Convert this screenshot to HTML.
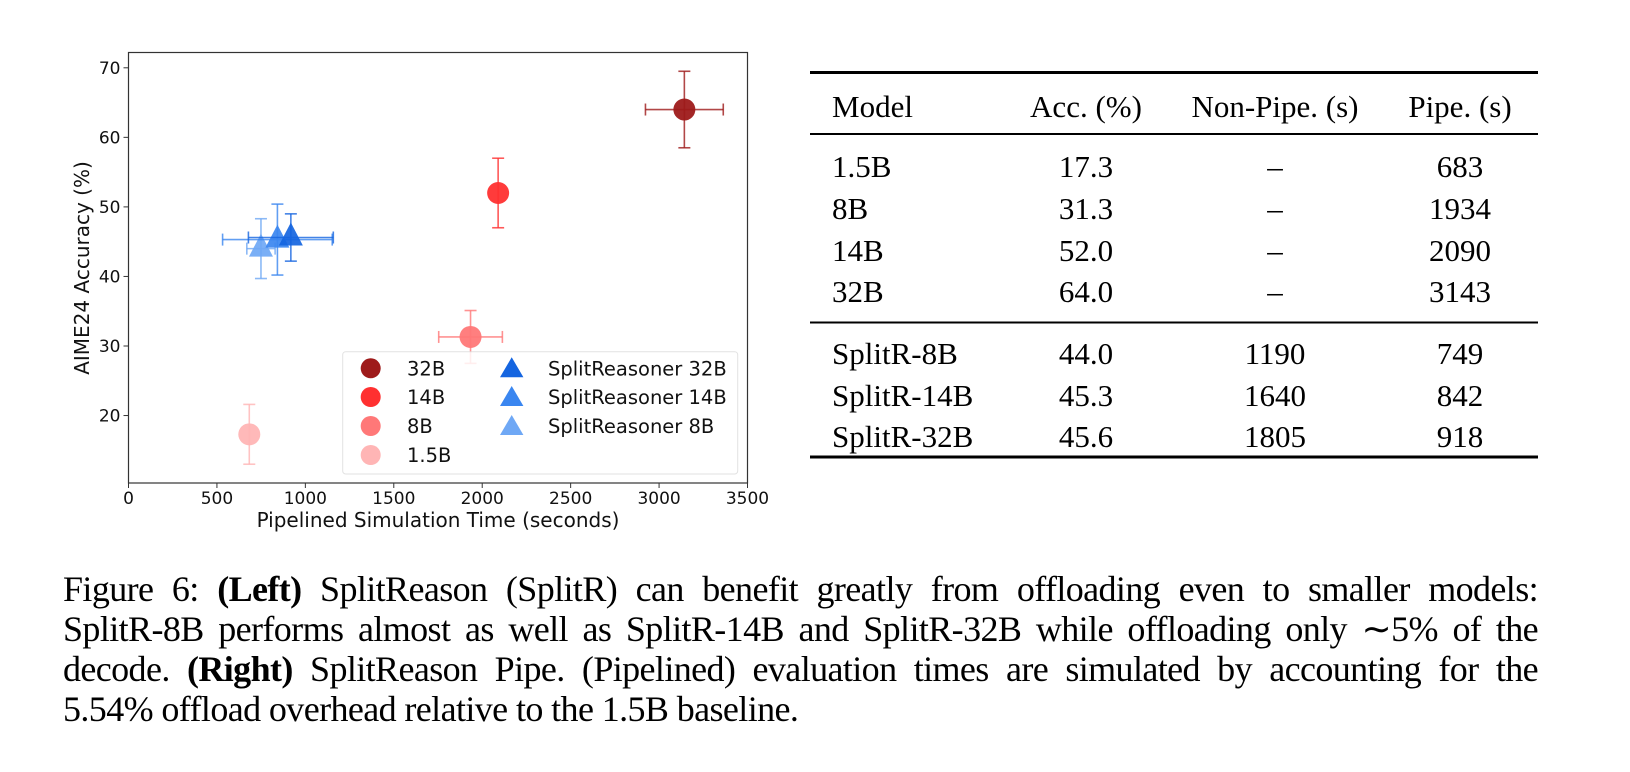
<!DOCTYPE html>
<html><head><meta charset="utf-8"><style>
html,body{margin:0;padding:0;background:#fff;}
body{width:1630px;height:772px;position:relative;overflow:hidden;}
svg{position:absolute;left:0;top:0;}
.tbl{position:absolute;font-family:"Liberation Serif",serif;font-size:31px;line-height:34px;color:#000;}
.cap{position:absolute;left:63px;width:1475px;font-family:"Liberation Serif",serif;font-size:36px;letter-spacing:-0.6px;line-height:40px;color:#000;}
.cap div{text-align:justify;text-align-last:justify;white-space:nowrap;}
.cap div.last{text-align-last:left;}
</style></head><body>
<svg id="chart" width="800" height="560" xmlns="http://www.w3.org/2000/svg"></svg>

<svg width="1630" height="772" style="pointer-events:none">
<line x1="810" y1="72.5" x2="1538" y2="72.5" stroke="#000" stroke-width="3"/>
<line x1="810" y1="134" x2="1538" y2="134" stroke="#000" stroke-width="2"/>
<line x1="810" y1="322.5" x2="1538" y2="322.5" stroke="#000" stroke-width="2"/>
<line x1="810" y1="457" x2="1538" y2="457" stroke="#000" stroke-width="3"/>
</svg>
<div id="table"></div>

<div class="cap" style="top:569px">
<div>Figure 6: <b>(Left)</b> SplitReason (SplitR) can benefit greatly from offloading even to smaller models:</div>
<div>SplitR-8B performs almost as well as SplitR-14B and SplitR-32B while offloading only ∼5% of the</div>
<div>decode. <b>(Right)</b> SplitReason Pipe. (Pipelined) evaluation times are simulated by accounting for the</div>
<div class="last">5.54% offload overhead relative to the 1.5B baseline.</div>
</div>

<script>
// ---- chart data ----
const baseNames = ["32B","14B","8B","1.5B"];
const baseX = [3143, 2090, 1934, 683];
const baseY = [64.0, 52.0, 31.3, 17.3];
const baseXErr = [220, 0, 180, 0];
const baseYErr = [5.5, 5.0, 3.8, 4.3];
const baseColors = ["#9e1a1a","#ff3030","#ff7878","#ffb5b5"];
const splitNames = ["SplitReasoner 32B","SplitReasoner 14B","SplitReasoner 8B"];
const splitX = [918, 842, 749];
const splitY = [45.6, 45.3, 44.0];
const splitXErr = [240, 310, 80];
const splitYErr = [3.4, 5.1, 4.3];
const splitColors = ["#1565e0","#3a86f0","#6fa8f5"];
const xTicks = [0,500,1000,1500,2000,2500,3000,3500];
const yTicks = [20,30,40,50,60,70];

const NS="http://www.w3.org/2000/svg";
const svg=document.getElementById('chart');
const L=128.5,R=747.5,T=52.5,B=483;
const xMin=0,xMax=3500,yMin=10.3,yMax=72.2;
const sx=v=>L+(v-xMin)/(xMax-xMin)*(R-L);
const sy=v=>B-(v-yMin)/(yMax-yMin)*(B-T);
function mk(tag,attrs,parent){const e=document.createElementNS(NS,tag);for(const k in attrs)e.setAttribute(k,attrs[k]);(parent||svg).appendChild(e);return e;}
const F='"DejaVu Sans","Liberation Sans",sans-serif';

let frame=mk('rect',{x:L,y:T,width:R-L,height:B-T,fill:'none',stroke:'#333','stroke-width':1.2});


xTicks.forEach(t=>{
  const g=mk('g',{});
  
  
  mk('line',{x1:sx(t),x2:sx(t),y1:B,y2:B+5,stroke:'#333','stroke-width':1},g);
  const tx=mk('text',{x:sx(t),y:B+21,'text-anchor':'middle','font-size':17,'font-family':F,fill:'#111'},g);tx.textContent=t;
});
yTicks.forEach(t=>{
  const g=mk('g',{});
  
  
  mk('line',{x1:L-5,x2:L,y1:sy(t),y2:sy(t),stroke:'#333','stroke-width':1},g);
  const tx=mk('text',{x:L-8,y:sy(t)+6,'text-anchor':'end','font-size':17,'font-family':F,fill:'#111'},g);tx.textContent=t;
});
let xl=mk('text',{x:(L+R)/2,y:527,'text-anchor':'middle','font-size':20,'font-family':F,fill:'#111'});
xl.textContent='Pipelined Simulation Time (seconds)';


let yl=mk('text',{x:0,y:0,'text-anchor':'middle','font-size':20,'font-family':F,fill:'#111',transform:'translate(89,268) rotate(-90)'});
yl.textContent='AIME24 Accuracy (%)';



function errbars(g,x,y,xe,ye,c){
  const a={stroke:c,'stroke-width':1.6,opacity:0.8};
  if(ye>0){
    mk('line',Object.assign({x1:sx(x),x2:sx(x),y1:sy(y-ye),y2:sy(y+ye)},a),g);
    mk('line',Object.assign({x1:sx(x)-6,x2:sx(x)+6,y1:sy(y-ye),y2:sy(y-ye)},a),g);
    mk('line',Object.assign({x1:sx(x)-6,x2:sx(x)+6,y1:sy(y+ye),y2:sy(y+ye)},a),g);
  }
  if(xe>0){
    mk('line',Object.assign({x1:sx(x-xe),x2:sx(x+xe),y1:sy(y),y2:sy(y)},a),g);
    mk('line',Object.assign({x1:sx(x-xe),x2:sx(x-xe),y1:sy(y)-6,y2:sy(y)+6},a),g);
    mk('line',Object.assign({x1:sx(x+xe),x2:sx(x+xe),y1:sy(y)-6,y2:sy(y)+6},a),g);
  }
}
baseX.forEach((x,i)=>{
  const g=mk('g',{});
  
  
  mk('circle',{cx:sx(x),cy:sy(baseY[i]),r:11,fill:baseColors[i],opacity:0.95},g);
  errbars(g,x,baseY[i],baseXErr[i],baseYErr[i],baseColors[i]);
});
[2,1,0].forEach(i=>{
  const x=splitX[i];
  const g=mk('g',{});
  
  
  const cx=sx(x),cy=sy(splitY[i]);
  mk('polygon',{points:`${cx},${cy-15} ${cx-12},${cy+8} ${cx+12},${cy+8}`,fill:splitColors[i],opacity:0.92},g);
  errbars(g,x,splitY[i],splitXErr[i],splitYErr[i],splitColors[i]);
});

// legend
const lg=mk('g',{});


mk('rect',{x:342.7,y:351.7,width:395,height:122.3,rx:3,fill:'#fff',stroke:'#ddd','stroke-width':1,opacity:0.85},lg);
const rowY=[368.3,397,426,455];
baseNames.forEach((n,i)=>{
  const e=mk('g',{},lg);
  
  
  mk('circle',{cx:370.7,cy:rowY[i],r:10,fill:baseColors[i]},e);
  const t=mk('text',{x:407,y:rowY[i]+7,'font-size':19.5,'font-family':F,fill:'#111'},e);t.textContent=n;
});
splitNames.forEach((n,i)=>{
  const e=mk('g',{},lg);
  
  
  const cy=rowY[i];
  mk('polygon',{points:`511.7,${cy-11} 500,${cy+9} 523.4,${cy+9}`,fill:splitColors[i]},e);
  const t=mk('text',{x:548,y:cy+7,'font-size':19.5,'font-family':F,fill:'#111'},e);t.textContent=n;
});

// ---- table ----
const header=["Model","Acc. (%)","Non-Pipe. (s)","Pipe. (s)"];
const rows=[["1.5B","17.3","–","683"],["8B","31.3","–","1934"],["14B","52.0","–","2090"],["32B","64.0","–","3143"],
["SplitR-8B","44.0","1190","749"],["SplitR-14B","45.3","1640","842"],["SplitR-32B","45.6","1805","918"]];
const rowCY=[166.7,208.7,250.7,292.3,354,395.7,436.7];
const colX=[832,1086,1275,1460];
const tb=document.getElementById('table');
function cell(txt,ci,cy,name){
  const d=document.createElement('div');
  d.className='tbl';
  d.textContent=txt;
  
  
  d.style.top=(cy-17)+'px';
  if(ci===0){d.style.left=colX[0]+'px';}
  else{d.style.left=(colX[ci]-150)+'px';d.style.width='300px';d.style.textAlign='center';}
  tb.appendChild(d);
}
header.forEach((h,ci)=>cell(h,ci,106.5,'header-cell'));
rows.forEach((r,ri)=>r.forEach((v,ci)=>cell(v,ci,rowCY[ri],'table-cell')));
</script>
</body></html>
